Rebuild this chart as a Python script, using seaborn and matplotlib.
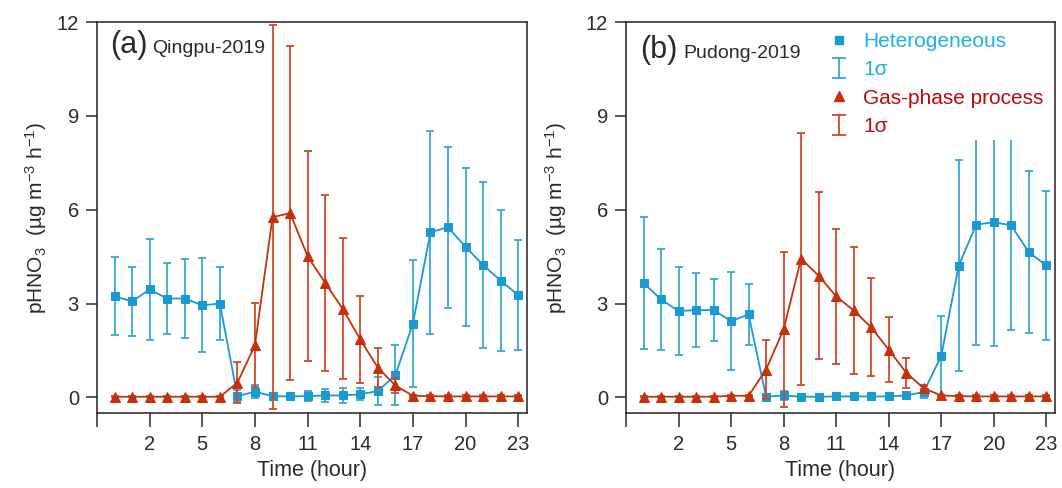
import numpy as np
import pandas as pd
import matplotlib
matplotlib.use("Agg")
import matplotlib.pyplot as plt
from matplotlib.path import Path
from matplotlib.lines import Line2D
import seaborn as sns

# ---------------- data ----------------
hours = list(range(24))

qp_het_mean = [3.23, 3.07, 3.45, 3.16, 3.16, 2.94, 3.00, 0.04, 0.18, 0.04, 0.03, 0.04,
               0.06, 0.06, 0.10, 0.20, 0.71, 2.36, 5.28, 5.44, 4.81, 4.23, 3.73, 3.27]
qp_het_sd = [1.25, 1.10, 1.62, 1.15, 1.27, 1.50, 1.17, 0.20, 0.20, 0.10, 0.08, 0.15,
             0.22, 0.25, 0.20, 0.44, 0.96, 2.02, 3.24, 2.57, 2.52, 2.66, 2.26, 1.77]
qp_gas_mean = [0.02, 0.02, 0.02, 0.02, 0.02, 0.02, 0.02, 0.47, 1.67, 5.76, 5.89, 4.51,
               3.66, 2.83, 1.85, 0.95, 0.38, 0.05, 0.04, 0.03, 0.03, 0.03, 0.03, 0.03]
qp_gas_sd = [0.02, 0.02, 0.02, 0.02, 0.02, 0.02, 0.02, 0.65, 1.35, 6.13, 5.35, 3.36,
             2.82, 2.25, 1.38, 0.62, 0.25, 0.03, 0.03, 0.03, 0.03, 0.03, 0.03, 0.03]

pd_het_mean = [3.66, 3.13, 2.76, 2.79, 2.79, 2.44, 2.65, 0.02, 0.06, 0.02, 0.02, 0.03,
               0.03, 0.03, 0.03, 0.06, 0.17, 1.32, 4.21, 5.52, 5.60, 5.50, 4.64, 4.22]
pd_het_sd = [2.12, 1.60, 1.40, 1.17, 1.00, 1.56, 0.98, 0.05, 0.15, 0.04, 0.04, 0.04,
             0.04, 0.04, 0.05, 0.12, 0.20, 1.28, 3.38, 3.86, 3.96, 3.36, 2.59, 2.38]
pd_gas_mean = [0.02, 0.02, 0.02, 0.02, 0.02, 0.05, 0.05, 0.89, 2.17, 4.43, 3.89, 3.23,
               2.78, 2.24, 1.53, 0.79, 0.29, 0.06, 0.04, 0.03, 0.03, 0.03, 0.03, 0.03]
pd_gas_sd = [0.02, 0.02, 0.02, 0.02, 0.02, 0.03, 0.03, 0.95, 2.49, 4.03, 2.67, 2.15,
             2.04, 1.57, 1.05, 0.48, 0.12, 0.03, 0.03, 0.03, 0.03, 0.03, 0.03, 0.03]

panel_tags = ["(a)", "(b)"]
site_names = ["Qingpu-2019", "Pudong-2019"]
xtick_vals = [-1, 2, 5, 8, 11, 14, 17, 20, 23]
xtick_labels = ["", "2", "5", "8", "11", "14", "17", "20", "23"]
ytick_vals = [0, 3, 6, 9, 12]
legend_labels = ["Heterogeneous", "1\u03c3", "Gas-phase process", "1\u03c3"]

# ---------------- style ----------------
sns.set_style("ticks")
plt.rcParams["font.family"] = ["Liberation Sans", "DejaVu Sans"]
plt.rcParams["mathtext.fontset"] = "custom"
plt.rcParams["mathtext.rm"] = "Liberation Sans"
plt.rcParams["mathtext.it"] = "Liberation Sans:italic"
plt.rcParams["mathtext.bf"] = "Liberation Sans:bold"

BLUE = "#1a9ad0"
BLUE_EB = "#35a8d8"
RED = "#c8300a"
RED_EB = "#d0482a"
BLUE_TXT = "#1ab2ea"
RED_TXT = "#c00a0a"
TXT = "#2a2a2a"

fig = plt.figure(figsize=(10.62, 4.88), dpi=100)
ax_a = fig.add_axes([97 / 1062, 1 - 413 / 488, 430 / 1062, 391 / 488])
ax_b = fig.add_axes([626 / 1062, 1 - 413 / 488, 429 / 1062, 391 / 488])

datasets = [
    (qp_het_mean, qp_het_sd, qp_gas_mean, qp_gas_sd),
    (pd_het_mean, pd_het_sd, pd_gas_mean, pd_gas_sd),
]

for i, (ax, (hm, hs, gm, gs)) in enumerate(zip([ax_a, ax_b], datasets)):
    ax.errorbar(hours, hm, yerr=hs, fmt="none", ecolor=BLUE_EB, elinewidth=1.3,
                capsize=2.6, capthick=1.3, zorder=2)
    sns.lineplot(x=hours, y=hm, ax=ax, color=BLUE, marker="s", markersize=6,
                 markeredgecolor=BLUE, markerfacecolor=BLUE, linewidth=1.3,
                 legend=False, zorder=3)
    ax.errorbar(hours, gm, yerr=gs, fmt="none", ecolor=RED_EB, elinewidth=1.3,
                capsize=2.6, capthick=1.3, zorder=4)
    sns.lineplot(x=hours, y=gm, ax=ax, color=RED, marker="^", markersize=7.5,
                 markeredgecolor=RED, markerfacecolor=RED, linewidth=1.3,
                 legend=False, zorder=5)

    ax.set_xlim(-1, 23.5)
    ax.set_ylim(-0.5, 12)
    ax.set_xticks(xtick_vals)
    ax.set_xticklabels(xtick_labels)
    ax.set_yticks(ytick_vals)
    ax.tick_params(axis="x", direction="out", length=10, width=1.1, pad=6,
                   labelsize=14.5, colors=TXT)
    ax.tick_params(axis="y", direction="out", length=8, width=1.1, pad=5,
                   labelsize=14.5, colors=TXT)
    for sp in ax.spines.values():
        sp.set_linewidth(1.1)
        sp.set_color("#222222")
    ax.set_xlabel("Time (hour)", fontsize=15.5, labelpad=4, color=TXT)
    ax.set_ylabel(r"pHNO$_3$  (µg m$^{-3}$ h$^{-1}$)", fontsize=15, color=TXT)
    ax.grid(False)

    ax.text(0.03 if i == 0 else 0.033, 0.921 if i == 0 else 0.908, panel_tags[i],
            transform=ax.transAxes, fontsize=22, va="baseline", ha="left", color=TXT)
    ax.text(0.128 if i == 0 else 0.133, 0.921 if i == 0 else 0.908, site_names[i],
            transform=ax.transAxes, fontsize=14, va="baseline", ha="left", color=TXT)

ax_a.yaxis.set_label_coords(-0.112, 0.5)
ax_b.yaxis.set_label_coords(-0.133, 0.5)

# legend (panel b)
ibeam = Path([(-0.7, -1), (0.7, -1), (0, -1), (0, 1), (-0.7, 1), (0.7, 1)],
             [Path.MOVETO, Path.LINETO, Path.MOVETO, Path.LINETO, Path.MOVETO, Path.LINETO])
handles = [
    Line2D([], [], ls="none", marker="s", markersize=6, color=BLUE),
    Line2D([], [], ls="none", marker=ibeam, markersize=15, markeredgewidth=1.3,
           markerfacecolor="none", markeredgecolor=BLUE_EB),
    Line2D([], [], ls="none", marker="^", markersize=7.5, color=RED),
    Line2D([], [], ls="none", marker=ibeam, markersize=15, markeredgewidth=1.3,
           markerfacecolor="none", markeredgecolor=RED_EB),
]
leg = ax_b.legend(handles, legend_labels, loc="upper left",
                  bbox_to_anchor=(0.463, 0.985), fontsize=15,
                  labelcolor=[BLUE_TXT, BLUE_TXT, RED_TXT, RED_TXT],
                  frameon=True, facecolor="white", edgecolor="none", framealpha=1,
                  fancybox=False, borderpad=0.2, handlelength=1.0,
                  handletextpad=0.65, labelspacing=0.45, borderaxespad=0)
leg.set_zorder(10)

fig.savefig("out.png", dpi=100)
